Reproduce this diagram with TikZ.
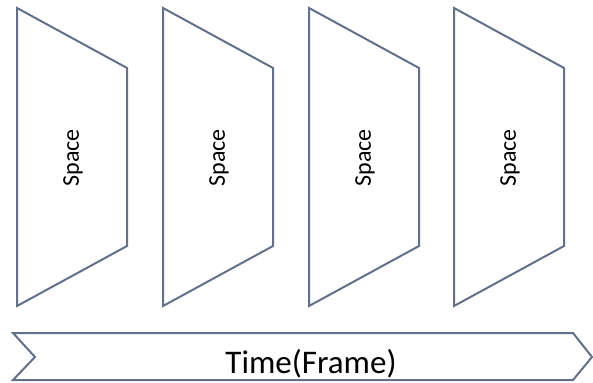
\documentclass[tikz,border=0pt]{standalone}
\usepackage{fontspec}
\setmainfont{Carlito}
\definecolor{slateline}{RGB}{98,112,140}
\begin{document}
\begin{tikzpicture}[x=1pt,y=-1pt]
\tikzstyle{every node}+=[inner sep=0pt]
\tikzstyle{frame}=[draw=slateline, line width=2pt, line join=miter]
\tikzstyle{spacelabel}=[rotate=90, font=\fontsize{24}{28}\selectfont]
\useasboundingbox (0,0) rectangle (593,382);
\draw [frame] (17,8) -- (127,68) -- (127,246) -- (17,306) -- cycle;
\draw [frame] (163,8) -- (273,68) -- (273,246) -- (163,306) -- cycle;
\draw [frame] (309,8) -- (419,68) -- (419,246) -- (309,306) -- cycle;
\draw [frame] (454,8) -- (564,68) -- (564,246) -- (454,306) -- cycle;
\node [spacelabel] (space1) at (73,158) {Space};
\node [spacelabel] (space2) at (219,158) {Space};
\node [spacelabel] (space3) at (365,158) {Space};
\node [spacelabel] (space4) at (510,158) {Space};
\draw [frame] (13,333) -- (573,333) -- (592,357) -- (573,380) -- (13,380) -- (35,357) -- cycle;
\node [font=\fontsize{33}{38}\selectfont] (time) at (311,364) {Time(Frame)};
\end{tikzpicture}
\end{document}
